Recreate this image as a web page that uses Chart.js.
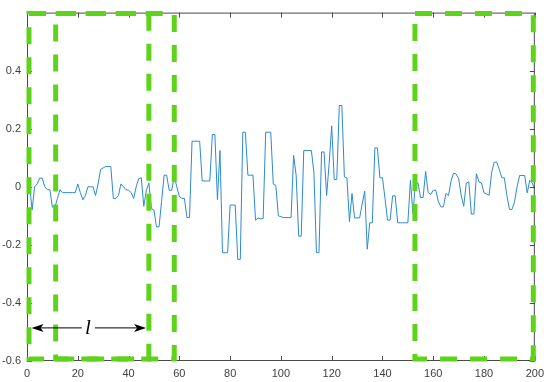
<!DOCTYPE html>
<html>
<head>
<meta charset="utf-8">
<script src="https://cdn.jsdelivr.net/npm/chart.js@4.4.1/dist/chart.umd.min.js"></script>
<style>
  html, body { margin: 0; padding: 0; background: #fff; }
  #wrap { width: 550px; height: 382px; }
</style>
</head>
<body>
<div id="wrap"><canvas id="chart"></canvas></div>
<script>
// sample index 1..200
var samples = [];
for (var n = 1; n <= 200; n++) samples.push(n);

var signal = [
  0.01, -0.08, 0.0, 0.01, 0.03, 0.03, 0.0, -0.01, -0.01, -0.07,
  -0.07, -0.04, -0.01, -0.02, -0.02, -0.02, -0.02, -0.02, -0.02, 0.01,
  -0.02, -0.045, -0.03, 0.0, 0.0, 0.0, -0.03, 0.01, 0.06, 0.065,
  0.07, 0.07, 0.07, -0.04, -0.04, -0.03, 0.01, 0.0, -0.01, -0.012,
  -0.02, -0.04, 0.0, 0.028, 0.031, -0.067, -0.012, 0.013, -0.075, -0.08,
  -0.138, -0.138, -0.05, 0.04, 0.04, -0.012, -0.012, 0.036, 0.0, -0.033,
  -0.04, -0.04, -0.106, -0.106, 0.157, 0.157, 0.157, 0.157, 0.02, 0.02,
  0.02, 0.02, 0.18, 0.18, -0.044, 0.125, -0.227, -0.227, -0.227, -0.063,
  -0.063, -0.063, -0.25, -0.25, 0.188, 0.188, 0.04, 0.04, 0.04, -0.115,
  -0.108, -0.11, -0.11, 0.188, 0.188, 0.188, 0.009, 0.005, -0.1, -0.103,
  -0.106, -0.106, -0.106, -0.106, 0.108, 0.04, -0.17, -0.17, 0.125, 0.125,
  0.125, 0.125, 0.05, -0.227, -0.227, 0.12, 0.12, -0.03, 0.08, 0.21,
  0.025, 0.025, 0.28, 0.28, 0.034, 0.03, -0.12, -0.023, -0.107, -0.107,
  -0.107, -0.06, -0.015, -0.215, -0.124, -0.124, 0.134, 0.134, 0.031, 0.031,
  -0.04, -0.115, -0.115, -0.031, -0.031, -0.124, -0.124, -0.124, -0.124, -0.124,
  0.022, -0.092, 0.013, 0.013, -0.037, -0.037, 0.053, -0.02, -0.026, -0.012,
  -0.012, -0.05, -0.069, -0.069, -0.023, -0.03, 0.02, 0.047, 0.044, 0.028,
  -0.03, -0.067, 0.013, 0.017, -0.094, -0.094, 0.045, 0.017, 0.013, -0.021,
  -0.025, -0.029, 0.05, 0.085, 0.085, 0.06, 0.031, 0.031, -0.03, -0.078,
  -0.078, -0.052, 0.0, 0.039, 0.039, 0.039, -0.021, 0.022, 0.013, -0.01
];

var xTicks = [0, 20, 40, 60, 80, 100, 120, 140, 160, 180, 200];
var yTicks = [-0.6, -0.4, -0.2, 0, 0.2, 0.4];

// dashed windows (x start / x end)
var windowStart = [0, 10.5, 152];
var windowEnd = [48, 58, 199.4];

// window length arrow
var arrowFrom = 1.8;
var arrowTo = 46.9;
var arrowY = -0.486;

var points = samples.map(function(s, i) { return { x: s, y: signal[i] }; });

// frame with inward ticks, like the original plot
var framePlugin = {
  id: 'frame',
  afterDraw: function(chart) {
    var ctx = chart.ctx;
    var a = chart.chartArea;
    var xs = chart.scales.x, ys = chart.scales.y;
    ctx.save();
    ctx.strokeStyle = '#4a4a4a';
    ctx.lineWidth = 1;
    ctx.strokeRect(a.left + 0.5, a.top + 0.5, a.width - 1, a.height - 1);
    ctx.beginPath();
    xTicks.forEach(function(t) {
      var px = Math.round(xs.getPixelForValue(t)) + 0.5;
      ctx.moveTo(px, a.bottom); ctx.lineTo(px, a.bottom - 5);
      ctx.moveTo(px, a.top); ctx.lineTo(px, a.top + 5);
    });
    yTicks.forEach(function(t) {
      var py = Math.round(ys.getPixelForValue(t)) + 0.5;
      ctx.moveTo(a.left, py); ctx.lineTo(a.left + 5, py);
      ctx.moveTo(a.right, py); ctx.lineTo(a.right - 5, py);
    });
    ctx.stroke();

    // green dashed windows
    ctx.strokeStyle = '#5fd31b';
    ctx.lineWidth = 5;
    ctx.setLineDash([17, 13]);
    for (var i = 0; i < windowStart.length; i++) {
      var x0 = xs.getPixelForValue(windowStart[i]) + 2;
      var x1 = xs.getPixelForValue(windowEnd[i]);
      var y0 = a.top + 1;
      var y1 = a.bottom - 2;
      ctx.strokeRect(x0, y0, x1 - x0, y1 - y0);
    }
    ctx.setLineDash([]);

    // arrow with label
    var ax0 = xs.getPixelForValue(arrowFrom);
    var ax1 = xs.getPixelForValue(arrowTo);
    var ay = ys.getPixelForValue(arrowY);
    ctx.strokeStyle = '#000';
    ctx.fillStyle = '#000';
    ctx.lineWidth = 1;
    ctx.beginPath();
    ctx.moveTo(ax0 + 6, ay); ctx.lineTo(ax1 - 6, ay);
    ctx.stroke();
    ctx.beginPath();
    ctx.moveTo(ax0, ay); ctx.lineTo(ax0 + 12, ay - 4); ctx.lineTo(ax0 + 9, ay); ctx.lineTo(ax0 + 12, ay + 4);
    ctx.closePath(); ctx.fill();
    ctx.beginPath();
    ctx.moveTo(ax1, ay); ctx.lineTo(ax1 - 12, ay - 4); ctx.lineTo(ax1 - 9, ay); ctx.lineTo(ax1 - 12, ay + 4);
    ctx.closePath(); ctx.fill();
    var mid = (ax0 + ax1) / 2;
    ctx.fillStyle = '#fff';
    ctx.fillRect(mid - 7, ay - 10, 13, 19);
    ctx.fillStyle = '#000';
    ctx.font = 'italic 21px "Liberation Serif", serif';
    ctx.textAlign = 'center';
    ctx.textBaseline = 'middle';
    ctx.fillText('l', mid - 1, ay + 1);
    ctx.restore();
  }
};

new Chart(document.getElementById('chart').getContext('2d'), {
  type: 'line',
  data: {
    datasets: [{
      data: points,
      borderColor: '#2c8ad0',
      borderWidth: 1,
      pointRadius: 0,
      tension: 0,
      fill: false
    }]
  },
  options: {
    responsive: true,
    maintainAspectRatio: false,
    animation: false,
    layout: { padding: { top: 12, right: 13, left: 0, bottom: 0 } },
    plugins: {
      legend: { display: false },
      tooltip: { enabled: false }
    },
    scales: {
      x: {
        type: 'linear',
        min: 0,
        max: 200,
        afterFit: function(s) { s.height = 21; },
        afterBuildTicks: function(s) { s.ticks = xTicks.map(function(v) { return { value: v }; }); },
        grid: { display: false, drawTicks: false },
        border: { display: false },
        ticks: {
          padding: 6,
          color: '#404040',
          font: { family: 'Liberation Sans, Arial, sans-serif', size: 11 },
          maxRotation: 0,
          callback: function(v) { return String(v); }
        }
      },
      y: {
        type: 'linear',
        min: -0.6,
        max: 0.6,
        afterFit: function(s) { s.width = 27; },
        afterBuildTicks: function(s) { s.ticks = yTicks.map(function(v) { return { value: v }; }); },
        grid: { display: false, drawTicks: false },
        border: { display: false },
        ticks: {
          padding: 6,
          color: '#404040',
          font: { family: 'Liberation Sans, Arial, sans-serif', size: 11 },
          callback: function(v) { return v === 0 ? '0' : (Math.round(v * 10) / 10).toString(); }
        }
      }
    }
  },
  plugins: [framePlugin]
});
</script>
</body>
</html>
